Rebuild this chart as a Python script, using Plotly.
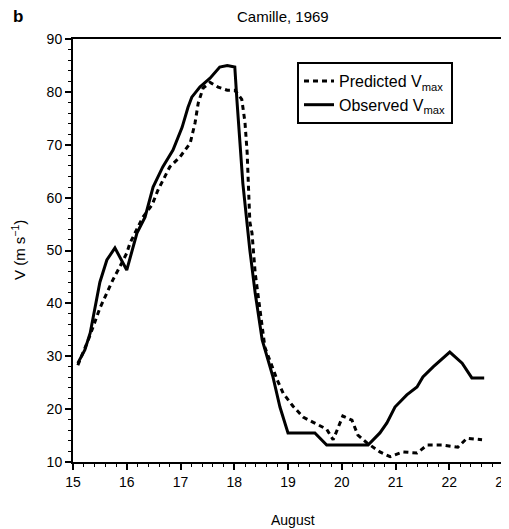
import plotly.graph_objects as go

# Observed Vmax (solid)
obs_day = [15.09, 15.22, 15.32, 15.41, 15.50, 15.63, 15.78, 16.0, 16.19, 16.34, 16.49, 16.67,
           16.86, 17.03, 17.14, 17.21, 17.36, 17.55, 17.73, 17.87, 18.01, 18.05, 18.16, 18.29,
           18.39, 18.52, 18.72, 18.85, 19.0, 19.5, 19.72, 20.49, 20.71, 20.84, 20.99, 21.21,
           21.4, 21.51, 21.7, 22.01, 22.24, 22.42, 22.65]
obs_v = [28.7, 31.2, 34.4, 39.3, 44.0, 48.2, 50.5, 46.3, 53.3, 56.3, 62.0, 65.8,
         69.0, 73.3, 77.1, 79.0, 80.9, 82.6, 84.7, 85.0, 84.7, 78.4, 62.7, 50.1,
         41.9, 33.1, 26.1, 20.4, 15.5, 15.5, 13.2, 13.2, 15.5, 17.4, 20.4, 22.7,
         24.2, 26.1, 28.0, 30.8, 28.7, 25.9, 25.9]

# Predicted Vmax (dashed)
pred_day = [15.09, 15.3, 15.5, 15.63, 15.74, 15.87, 16.0, 16.06, 16.3, 16.47, 16.58, 16.8,
            16.99, 17.18, 17.27, 17.33, 17.42, 17.55, 17.7, 17.87, 18.01, 18.14, 18.2, 18.24,
            18.26, 18.29, 18.33, 18.39, 18.48, 18.57, 18.8, 18.91, 19.09, 19.28, 19.47, 19.72,
            19.84, 19.97, 20.02, 20.19, 20.3, 20.47, 20.71, 20.9, 21.14, 21.4, 21.59, 21.88,
            22.16, 22.33, 22.61]
pred_v = [28.3, 33.5, 39.1, 42.0, 44.4, 46.9, 49.5, 51.4, 56.3, 58.6, 61.4, 65.8,
          67.7, 70.3, 74.1, 77.9, 80.7, 81.8, 80.9, 80.3, 80.3, 78.6, 74.2, 68.5,
          62.5, 55.4, 53.3, 45.7, 38.7, 31.7, 25.5, 23.0, 20.6, 18.5, 17.5, 16.2,
          14.2, 17.5, 18.7, 17.9, 15.1, 13.6, 11.9, 11.0, 11.9, 11.7, 13.2, 13.2,
          12.8, 14.5, 14.2]

x_ticks = [15, 16, 17, 18, 19, 20, 21, 22, 23]
y_ticks = [10, 20, 30, 40, 50, 60, 70, 80, 90]

FONT = "Liberation Sans, Arial, sans-serif"
OFF = 8  # page body margin offset
W, H = 509 - OFF, 529 - OFF
L, R, T, B = 73 - OFF, 6, 39 - OFF, 67
PW, PH = W - L - R, H - T - B


def px(xp):
    return (xp - OFF - L) / PW


def py(yp):
    return (H - B - (yp - OFF)) / PH


fig = go.Figure()
fig.add_trace(go.Scatter(x=pred_day, y=pred_v, mode="lines",
                         name="Predicted V<sub>max</sub>",
                         line=dict(color="black", width=3, dash="5px,4px")))
fig.add_trace(go.Scatter(x=obs_day, y=obs_v, mode="lines",
                         name="Observed V<sub>max</sub>",
                         line=dict(color="black", width=3)))

axis_common = dict(showgrid=False, zeroline=False, showline=True, linecolor="black",
                   linewidth=2, mirror=True, ticks="outside", ticklen=6, tickwidth=1.5,
                   tickcolor="black", automargin=False, ticklabeloverflow="allow",
                   tickfont=dict(size=14, color="black", family=FONT))

fig.update_xaxes(range=[15, 23], tickvals=x_ticks, ticktext=[str(t) for t in x_ticks],
                 minor=dict(dtick=0.2, tick0=15, ticks="outside", ticklen=3, tickcolor="black", tickwidth=1),
                 **axis_common)
fig.update_yaxes(range=[10, 90], tickvals=y_ticks, ticktext=[str(t) for t in y_ticks],
                 minor=dict(dtick=2, tick0=10, ticks="outside", ticklen=3, tickcolor="black", tickwidth=1),
                 **axis_common)

fig.update_layout(
    width=W, height=H,
    margin=dict(l=L, r=R, t=T, b=B),
    paper_bgcolor="white", plot_bgcolor="white",
    font=dict(family=FONT, color="black"),
    showlegend=True,
    legend=dict(x=px(297), y=py(62), xanchor="left", yanchor="top",
                bordercolor="black", borderwidth=2, bgcolor="white",
                font=dict(size=16, color="black", family=FONT),
                tracegroupgap=10, itemwidth=30),
    annotations=[
        dict(text="<b>b</b>", x=px(18), y=py(16), xref="paper", yref="paper",
             xanchor="center", yanchor="middle", showarrow=False,
             font=dict(size=17, color="black", family=FONT)),
        dict(text="Camille, 1969", x=px(283), y=py(16), xref="paper", yref="paper",
             xanchor="center", yanchor="middle", showarrow=False,
             font=dict(size=15, color="black", family=FONT)),
        dict(text="August", x=px(293), y=py(520), xref="paper", yref="paper",
             xanchor="center", yanchor="middle", showarrow=False,
             font=dict(size=14, color="black", family=FONT)),
        dict(text="V (m s<sup>−1</sup>)", x=px(18), y=py(250), xref="paper", yref="paper",
             xanchor="center", yanchor="middle", showarrow=False, textangle=-90,
             font=dict(size=15, color="black", family=FONT)),
    ],
)

fig.write_html("out.html")
